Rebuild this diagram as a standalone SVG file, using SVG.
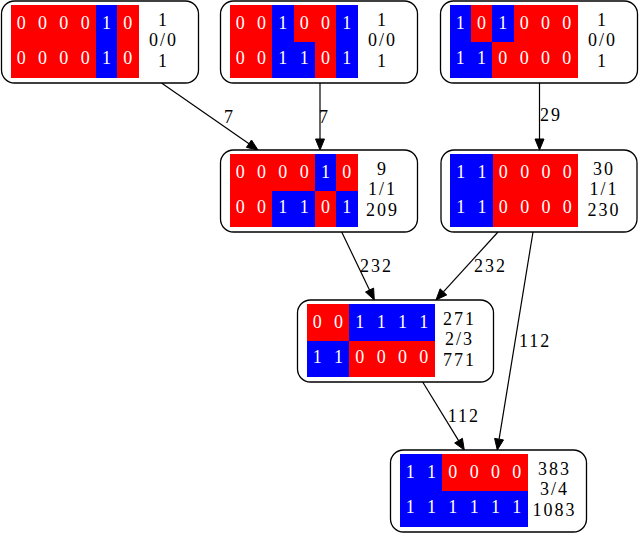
<svg xmlns="http://www.w3.org/2000/svg" width="639" height="534" viewBox="0 0 639 534">
<defs>
<style>
.frame{fill:#fff;stroke:#000;stroke-width:1.3}
.r{fill:#ff0000}
.b{fill:#0000ff}
.c{font-family:"Liberation Serif","Times New Roman",serif;font-size:18px;fill:#fff;text-anchor:middle}
.t{font-family:"Liberation Serif","Times New Roman",serif;font-size:18px;fill:#000;text-anchor:middle;letter-spacing:2px}
.el{font-family:"Liberation Serif","Times New Roman",serif;font-size:18px;fill:#000;letter-spacing:2px}
.edge line{stroke:#000;stroke-width:1.2}
.edge polygon{fill:#000;stroke:#000;stroke-width:1}
rect{shape-rendering:crispEdges}
.frame{shape-rendering:auto}
</style>
</defs>
<rect width="639" height="534" fill="#fff"/>

<g id="edges" class="edge">
<line x1="161.5" y1="83" x2="249" y2="143.7"/>
<polygon points="258,150 246.4,147.4 251.5,140"/>
<text class="el" x="224" y="123">7</text>
<line x1="320" y1="83" x2="320" y2="139"/>
<polygon points="320,150 315.5,139 324.5,139"/>
<text class="el" x="319" y="123">7</text>
<line x1="539.5" y1="83" x2="539.5" y2="139"/>
<polygon points="539.5,150 535,139 544,139"/>
<text class="el" x="540" y="121">29</text>
<line x1="341.7" y1="232" x2="369.5" y2="290"/>
<polygon points="374.3,300 365.5,292 373.6,288.1"/>
<text class="el" x="360" y="272">232</text>
<line x1="498" y1="232" x2="443.4" y2="291.9"/>
<polygon points="436,300 440.1,288.8 446.7,294.9"/>
<text class="el" x="474" y="272">232</text>
<line x1="533" y1="232" x2="499.1" y2="439.1"/>
<polygon points="497.3,450 494.6,438.4 503.5,439.9"/>
<text class="el" x="519" y="347">112</text>
<line x1="422.7" y1="382" x2="458.6" y2="440.6"/>
<polygon points="464.3,450 454.7,443 462.4,438.3"/>
<text class="el" x="447.7" y="422">112</text>
</g>

<!-- Node 1 -->
<g id="n1" transform="translate(1.5,1)">
<rect class="frame" x="0" y="0" width="197" height="82" rx="13"/>
<rect class="r" x="9" y="4" width="85.33" height="36.5"/>
<rect class="b" x="94.33" y="4" width="21.33" height="36.5"/>
<rect class="r" x="115.67" y="4" width="21.33" height="36.5"/>
<rect class="r" x="9" y="40.5" width="85.33" height="36.5"/>
<rect class="b" x="94.33" y="40.5" width="21.33" height="36.5"/>
<rect class="r" x="115.67" y="40.5" width="21.33" height="36.5"/>
<text class="c" y="27.5"><tspan x="19.67">0</tspan><tspan x="41">0</tspan><tspan x="62.33">0</tspan><tspan x="83.67">0</tspan><tspan x="105">1</tspan><tspan x="126.33">0</tspan></text>
<text class="c" y="62.5"><tspan x="19.67">0</tspan><tspan x="41">0</tspan><tspan x="62.33">0</tspan><tspan x="83.67">0</tspan><tspan x="105">1</tspan><tspan x="126.33">0</tspan></text>
<text class="t" x="162" y="24.5">1</text>
<text class="t" x="162" y="45">0/0</text>
<text class="t" x="162" y="66">1</text>
</g>

<!-- Node 2 -->
<g id="n2" transform="translate(220.5,1)">
<rect class="frame" x="0" y="0" width="197" height="82" rx="13"/>
<rect class="r" x="9" y="4" width="42.67" height="36.5"/>
<rect class="b" x="51.67" y="4" width="21.33" height="36.5"/>
<rect class="r" x="73" y="4" width="42.67" height="36.5"/>
<rect class="b" x="115.67" y="4" width="21.33" height="36.5"/>
<rect class="r" x="9" y="40.5" width="42.67" height="36.5"/>
<rect class="b" x="51.67" y="40.5" width="42.67" height="36.5"/>
<rect class="r" x="94.33" y="40.5" width="21.33" height="36.5"/>
<rect class="b" x="115.67" y="40.5" width="21.33" height="36.5"/>
<text class="c" y="27.5"><tspan x="19.67">0</tspan><tspan x="41">0</tspan><tspan x="62.33">1</tspan><tspan x="83.67">0</tspan><tspan x="105">0</tspan><tspan x="126.33">1</tspan></text>
<text class="c" y="62.5"><tspan x="19.67">0</tspan><tspan x="41">0</tspan><tspan x="62.33">1</tspan><tspan x="83.67">1</tspan><tspan x="105">0</tspan><tspan x="126.33">1</tspan></text>
<text class="t" x="162" y="24.5">1</text>
<text class="t" x="162" y="45">0/0</text>
<text class="t" x="162" y="66">1</text>
</g>

<!-- Node 3 -->
<g id="n3" transform="translate(440.5,1)">
<rect class="frame" x="0" y="0" width="197" height="82" rx="13"/>
<rect class="b" x="9" y="4" width="21.33" height="36.5"/>
<rect class="r" x="30.33" y="4" width="21.33" height="36.5"/>
<rect class="b" x="51.67" y="4" width="21.33" height="36.5"/>
<rect class="r" x="73" y="4" width="64" height="36.5"/>
<rect class="b" x="9" y="40.5" width="42.67" height="36.5"/>
<rect class="r" x="51.67" y="40.5" width="85.33" height="36.5"/>
<text class="c" y="27.5"><tspan x="19.67">1</tspan><tspan x="41">0</tspan><tspan x="62.33">1</tspan><tspan x="83.67">0</tspan><tspan x="105">0</tspan><tspan x="126.33">0</tspan></text>
<text class="c" y="62.5"><tspan x="19.67">1</tspan><tspan x="41">1</tspan><tspan x="62.33">0</tspan><tspan x="83.67">0</tspan><tspan x="105">0</tspan><tspan x="126.33">0</tspan></text>
<text class="t" x="162" y="24.5">1</text>
<text class="t" x="162" y="45">0/0</text>
<text class="t" x="162" y="66">1</text>
</g>

<!-- Node 4 -->
<g id="n4" transform="translate(220.5,150)">
<rect class="frame" x="0" y="0" width="197" height="82" rx="13"/>
<rect class="r" x="9" y="4" width="85.33" height="36.5"/>
<rect class="b" x="94.33" y="4" width="21.33" height="36.5"/>
<rect class="r" x="115.67" y="4" width="21.33" height="36.5"/>
<rect class="r" x="9" y="40.5" width="42.67" height="36.5"/>
<rect class="b" x="51.67" y="40.5" width="42.67" height="36.5"/>
<rect class="r" x="94.33" y="40.5" width="21.33" height="36.5"/>
<rect class="b" x="115.67" y="40.5" width="21.33" height="36.5"/>
<text class="c" y="27.5"><tspan x="19.67">0</tspan><tspan x="41">0</tspan><tspan x="62.33">0</tspan><tspan x="83.67">0</tspan><tspan x="105">1</tspan><tspan x="126.33">0</tspan></text>
<text class="c" y="62.5"><tspan x="19.67">0</tspan><tspan x="41">0</tspan><tspan x="62.33">1</tspan><tspan x="83.67">1</tspan><tspan x="105">0</tspan><tspan x="126.33">1</tspan></text>
<text class="t" x="162" y="24.5">9</text>
<text class="t" x="162" y="45">1/1</text>
<text class="t" x="162" y="66">209</text>
</g>

<!-- Node 5 -->
<g id="n5" transform="translate(441,150)">
<rect class="frame" x="0" y="0" width="196" height="82" rx="13"/>
<rect class="b" x="9" y="4" width="42.67" height="73"/>
<rect class="r" x="51.67" y="4" width="85.33" height="73"/>
<text class="c" y="27.5"><tspan x="19.67">1</tspan><tspan x="41">1</tspan><tspan x="62.33">0</tspan><tspan x="83.67">0</tspan><tspan x="105">0</tspan><tspan x="126.33">0</tspan></text>
<text class="c" y="62.5"><tspan x="19.67">1</tspan><tspan x="41">1</tspan><tspan x="62.33">0</tspan><tspan x="83.67">0</tspan><tspan x="105">0</tspan><tspan x="126.33">0</tspan></text>
<text class="t" x="163" y="24.5">30</text>
<text class="t" x="163" y="45">1/1</text>
<text class="t" x="163" y="66">230</text>
</g>

<!-- Node 6 -->
<g id="n6" transform="translate(297.5,300)">
<rect class="frame" x="0" y="0" width="196" height="82" rx="13"/>
<rect class="r" x="9" y="4" width="42.67" height="36.5"/>
<rect class="b" x="51.67" y="4" width="85.33" height="36.5"/>
<rect class="b" x="9" y="40.5" width="42.67" height="36.5"/>
<rect class="r" x="51.67" y="40.5" width="85.33" height="36.5"/>
<text class="c" y="27.5"><tspan x="19.67">0</tspan><tspan x="41">0</tspan><tspan x="62.33">1</tspan><tspan x="83.67">1</tspan><tspan x="105">1</tspan><tspan x="126.33">1</tspan></text>
<text class="c" y="62.5"><tspan x="19.67">1</tspan><tspan x="41">1</tspan><tspan x="62.33">0</tspan><tspan x="83.67">0</tspan><tspan x="105">0</tspan><tspan x="126.33">0</tspan></text>
<text class="t" x="162" y="24.5">271</text>
<text class="t" x="162" y="45">2/3</text>
<text class="t" x="162" y="66">771</text>
</g>

<!-- Node 7 -->
<g id="n7" transform="translate(390.5,450)">
<rect class="frame" x="0" y="0" width="196" height="82" rx="13"/>
<rect class="b" x="9" y="4" width="42.67" height="36.5"/>
<rect class="r" x="51.67" y="4" width="85.33" height="36.5"/>
<rect class="b" x="9" y="40.5" width="128" height="36.5"/>
<text class="c" y="27.5"><tspan x="19.67">1</tspan><tspan x="41">1</tspan><tspan x="62.33">0</tspan><tspan x="83.67">0</tspan><tspan x="105">0</tspan><tspan x="126.33">0</tspan></text>
<text class="c" y="62.5"><tspan x="19.67">1</tspan><tspan x="41">1</tspan><tspan x="62.33">1</tspan><tspan x="83.67">1</tspan><tspan x="105">1</tspan><tspan x="126.33">1</tspan></text>
<text class="t" x="164" y="24.5">383</text>
<text class="t" x="164" y="45">3/4</text>
<text class="t" x="164" y="66">1083</text>
</g>
</svg>
